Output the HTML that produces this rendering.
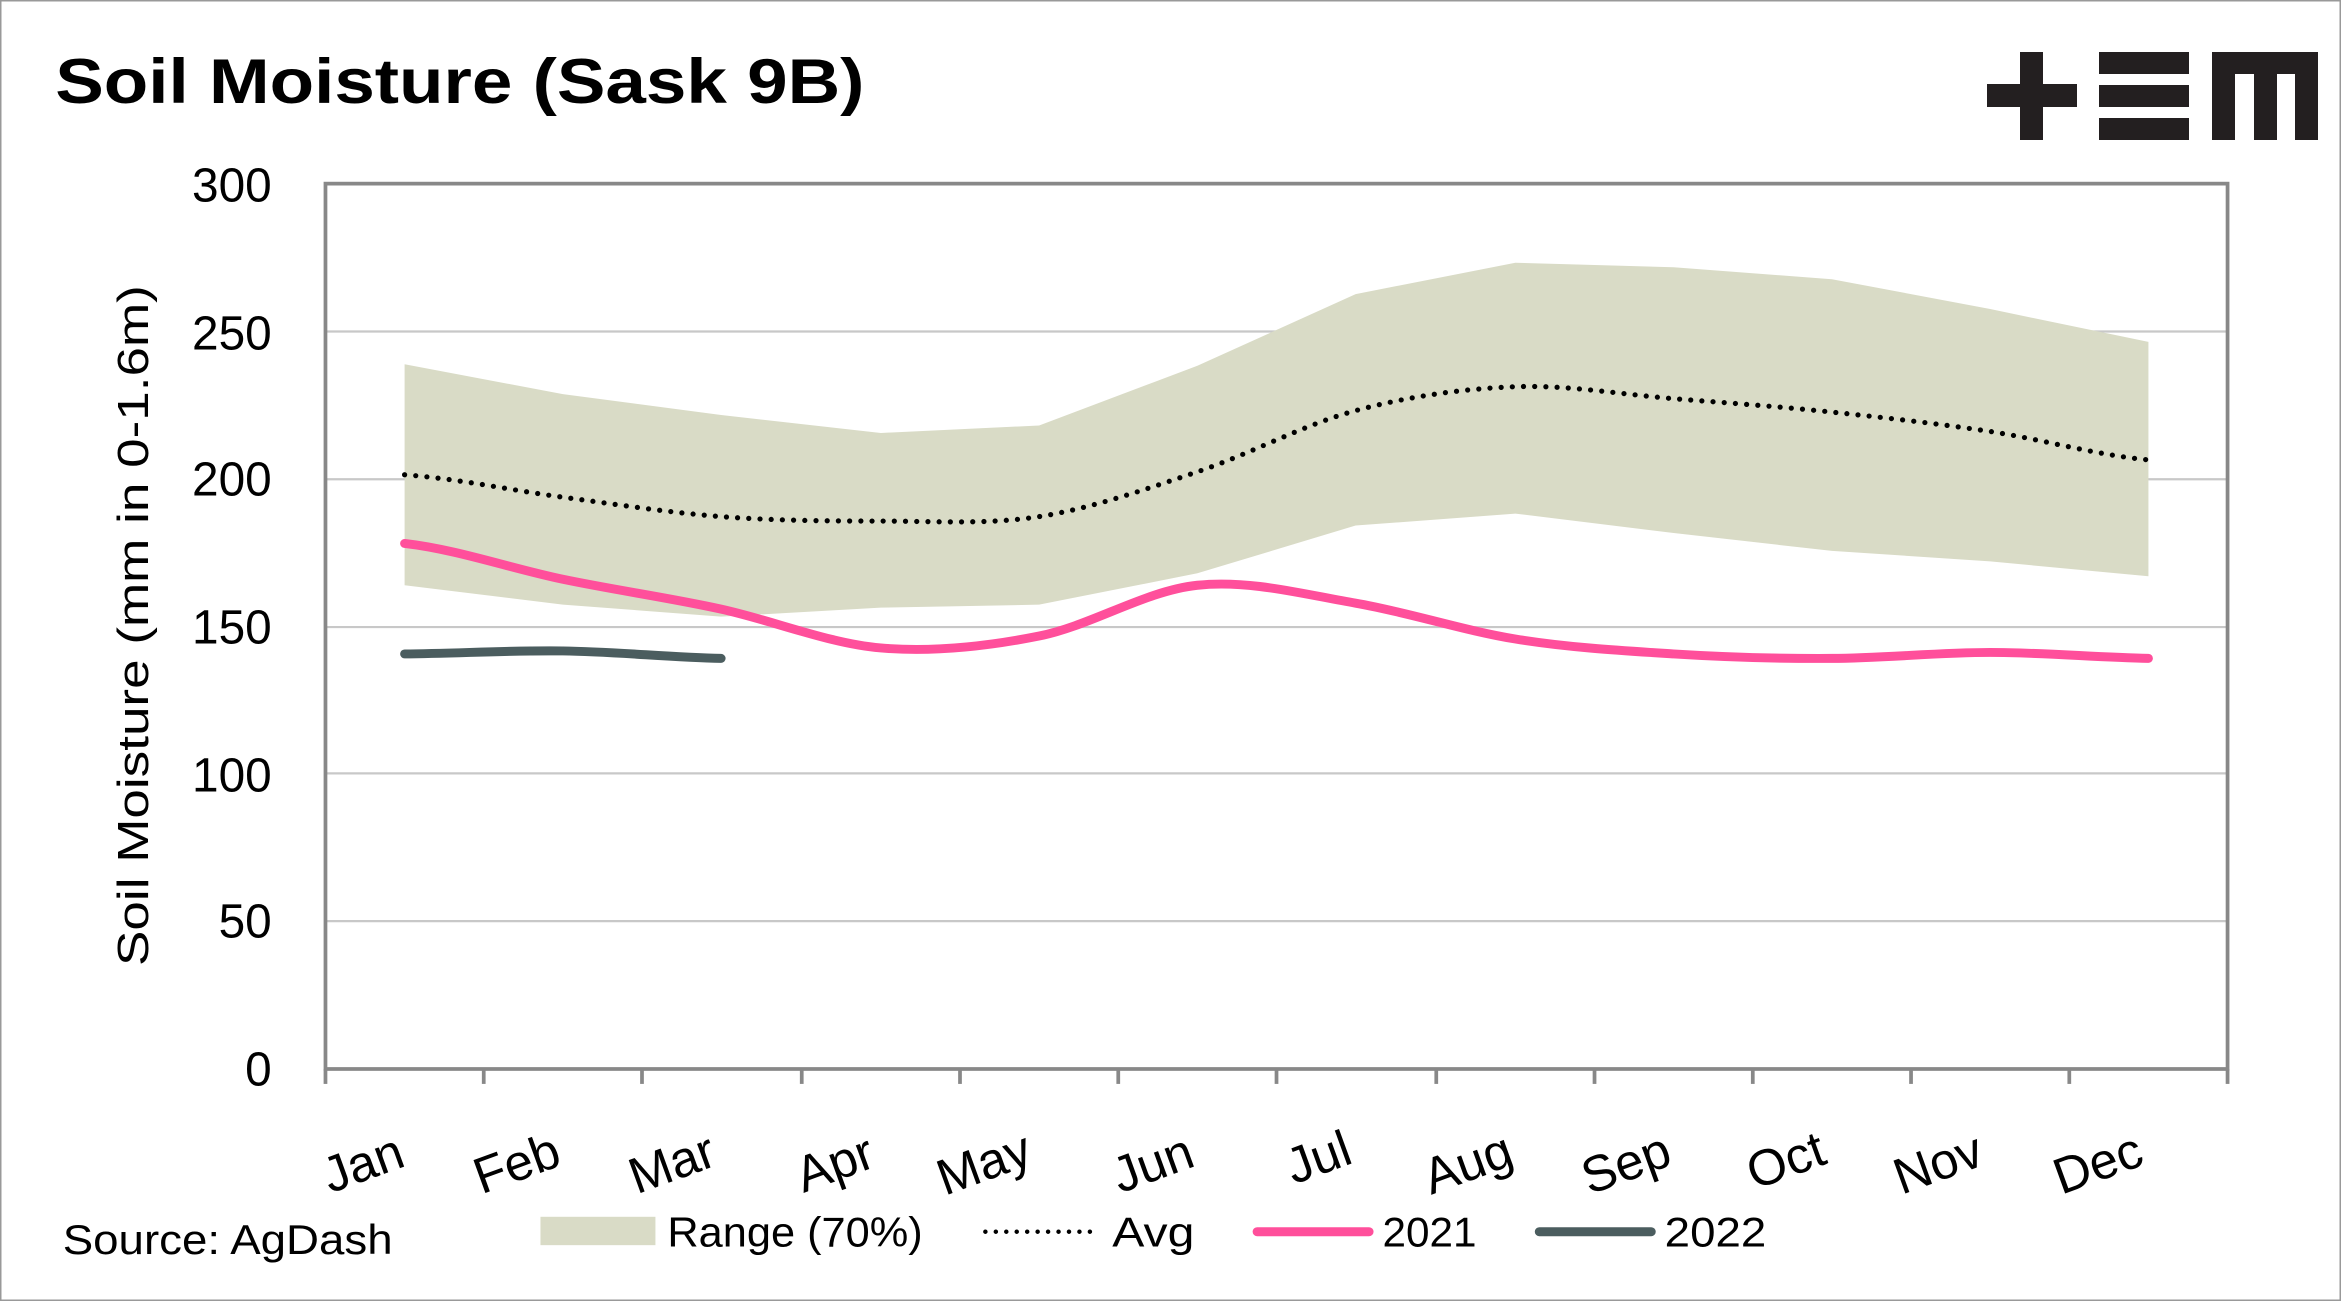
<!DOCTYPE html>
<html><head><meta charset="utf-8"><style>
html,body{margin:0;padding:0;background:#fff}
svg{display:block}
text{font-family:"Liberation Sans",sans-serif;fill:#000}
</style></head><body>
<svg width="2341" height="1301" viewBox="0 0 2341 1301" xmlns="http://www.w3.org/2000/svg">
<rect x="0.5" y="0.5" width="2340" height="1300" fill="#fff" stroke="#999" stroke-width="2"/>
<g fill="#231f20">
<rect x="2020" y="52" width="23" height="88"/><rect x="1987" y="84" width="90" height="23"/>
<rect x="2099" y="52" width="90" height="22"/><rect x="2099" y="85" width="90" height="22"/><rect x="2099" y="118" width="90" height="22"/>
<rect x="2212" y="52" width="106" height="22"/><rect x="2212" y="52" width="23" height="88"/><rect x="2254" y="52" width="23" height="88"/><rect x="2295" y="52" width="23" height="88"/>
</g>
<g transform="scale(1.493)">
<text x="37" y="69" font-size="42" font-weight="bold" textLength="542" lengthAdjust="spacingAndGlyphs">Soil Moisture (Sask 9B)</text>
<g stroke="#c8c8c8" stroke-width="1.5">
<line x1="218" x2="1492" y1="617" y2="617"/><line x1="218" x2="1492" y1="518" y2="518"/>
<line x1="218" x2="1492" y1="420" y2="420"/><line x1="218" x2="1492" y1="321" y2="321"/>
<line x1="218" x2="1492" y1="222" y2="222"/>
</g>
<path fill="#d9dbc6" d="M271,244 L377,264 L483,278 L590,290 L696,285 L802,245 L908,197 L1015,176 L1121,179 L1227,187 L1333,207 L1439,229 L1439,386 L1333,376 L1227,369 L1121,357 L1015,344 L908,352 L802,384 L696,405 L590,407 L483,413 L377,405 L271,392 Z"/>
<path fill="none" stroke="#000" stroke-width="3.5" stroke-dasharray="0 7.5" stroke-linecap="round" d="M271,318 C306,320.5 342,328.3 377,333 C412,337.7 448,343.3 483,346 C518,348.7 555,349 590,349 C625,349 661,351.5 696,346 C731,340.5 767,327.8 802,316 C837,304.2 873,284.5 908,275 C943,265.5 980,260.3 1015,259 C1050,257.7 1086,264.2 1121,267 C1156,269.8 1192,272.3 1227,276 C1262,279.7 1298,283.7 1333,289 C1368,294.3 1404,304.8 1439,308"/>
<path fill="none" stroke="#ff4f9b" stroke-width="6" stroke-linecap="round" d="M271,364 C306,368 342,380.7 377,388 C412,395.3 448,400.3 483,408 C518,415.7 555,431 590,434 C625,437 661,433 696,426 C731,419 767,395.7 802,392 C837,388.3 873,398 908,404 C943,410 980,422.3 1015,428 C1050,433.7 1086,435.8 1121,438 C1156,440.2 1192,441.2 1227,441 C1262,440.8 1298,437 1333,437 C1368,437 1404,440.3 1439,441"/>
<path fill="none" stroke="#4b5d5f" stroke-width="6" stroke-linecap="round" d="M271,438 C306,437.7 342,435.5 377,436 C412,436.5 448,440.2 483,441"/>
<rect x="218" y="123" width="1274" height="593" fill="none" stroke="#888" stroke-width="2.5"/>
<g stroke="#888" stroke-width="2.5">
<line x1="218" x2="218" y1="716" y2="726"/><line x1="324" x2="324" y1="716" y2="726"/><line x1="430" x2="430" y1="716" y2="726"/>
<line x1="537" x2="537" y1="716" y2="726"/><line x1="643" x2="643" y1="716" y2="726"/><line x1="749" x2="749" y1="716" y2="726"/>
<line x1="855" x2="855" y1="716" y2="726"/><line x1="962" x2="962" y1="716" y2="726"/><line x1="1068" x2="1068" y1="716" y2="726"/>
<line x1="1174" x2="1174" y1="716" y2="726"/><line x1="1280" x2="1280" y1="716" y2="726"/><line x1="1386" x2="1386" y1="716" y2="726"/>
<line x1="1492" x2="1492" y1="716" y2="726"/>
</g>
<g font-size="32" text-anchor="end">
<text x="182" y="135">300</text><text x="182" y="234">250</text><text x="182" y="332">200</text>
<text x="182" y="431">150</text><text x="182" y="530">100</text><text x="182" y="628">50</text><text x="182" y="727">0</text>
</g>
<text transform="translate(99,419) rotate(-90)" font-size="29" text-anchor="middle" textLength="456" lengthAdjust="spacingAndGlyphs">Soil Moisture (mm in 0-1.6m)</text>
<g font-size="34" text-anchor="middle">
<text transform="translate(247,790) rotate(-20)">Jan</text>
<text transform="translate(350,790) rotate(-20)">Feb</text>
<text transform="translate(454,790) rotate(-20)">Mar</text>
<text transform="translate(563,790) rotate(-20)">Apr</text>
<text transform="translate(663,790) rotate(-20)">May</text>
<text transform="translate(776,790) rotate(-20)">Jun</text>
<text transform="translate(887,786) rotate(-20)">Jul</text>
<text transform="translate(987,790) rotate(-20)">Aug</text>
<text transform="translate(1093,790) rotate(-20)">Sep</text>
<text transform="translate(1200,788) rotate(-20)">Oct</text>
<text transform="translate(1302,790) rotate(-20)">Nov</text>
<text transform="translate(1409,790) rotate(-20)">Dec</text>
</g>
<text x="42" y="840" font-size="28" textLength="221" lengthAdjust="spacingAndGlyphs">Source: AgDash</text>
<rect x="362" y="815" width="77" height="19" fill="#d9dbc6"/>
<text x="447" y="835" font-size="28" textLength="171" lengthAdjust="spacingAndGlyphs">Range (70%)</text>
<line x1="660" x2="737" y1="825" y2="825" stroke="#000" stroke-width="3" stroke-dasharray="0 7" stroke-linecap="round"/>
<text x="745" y="835" font-size="28" textLength="55" lengthAdjust="spacingAndGlyphs">Avg</text>
<line x1="842" x2="917" y1="825" y2="825" stroke="#ff4f9b" stroke-width="6" stroke-linecap="round"/>
<text x="926" y="835" font-size="28" textLength="63" lengthAdjust="spacingAndGlyphs">2021</text>
<line x1="1031" x2="1106" y1="825" y2="825" stroke="#4b5d5f" stroke-width="6" stroke-linecap="round"/>
<text x="1115" y="835" font-size="28" textLength="68" lengthAdjust="spacingAndGlyphs">2022</text>
</g>
</svg>
</body></html>
